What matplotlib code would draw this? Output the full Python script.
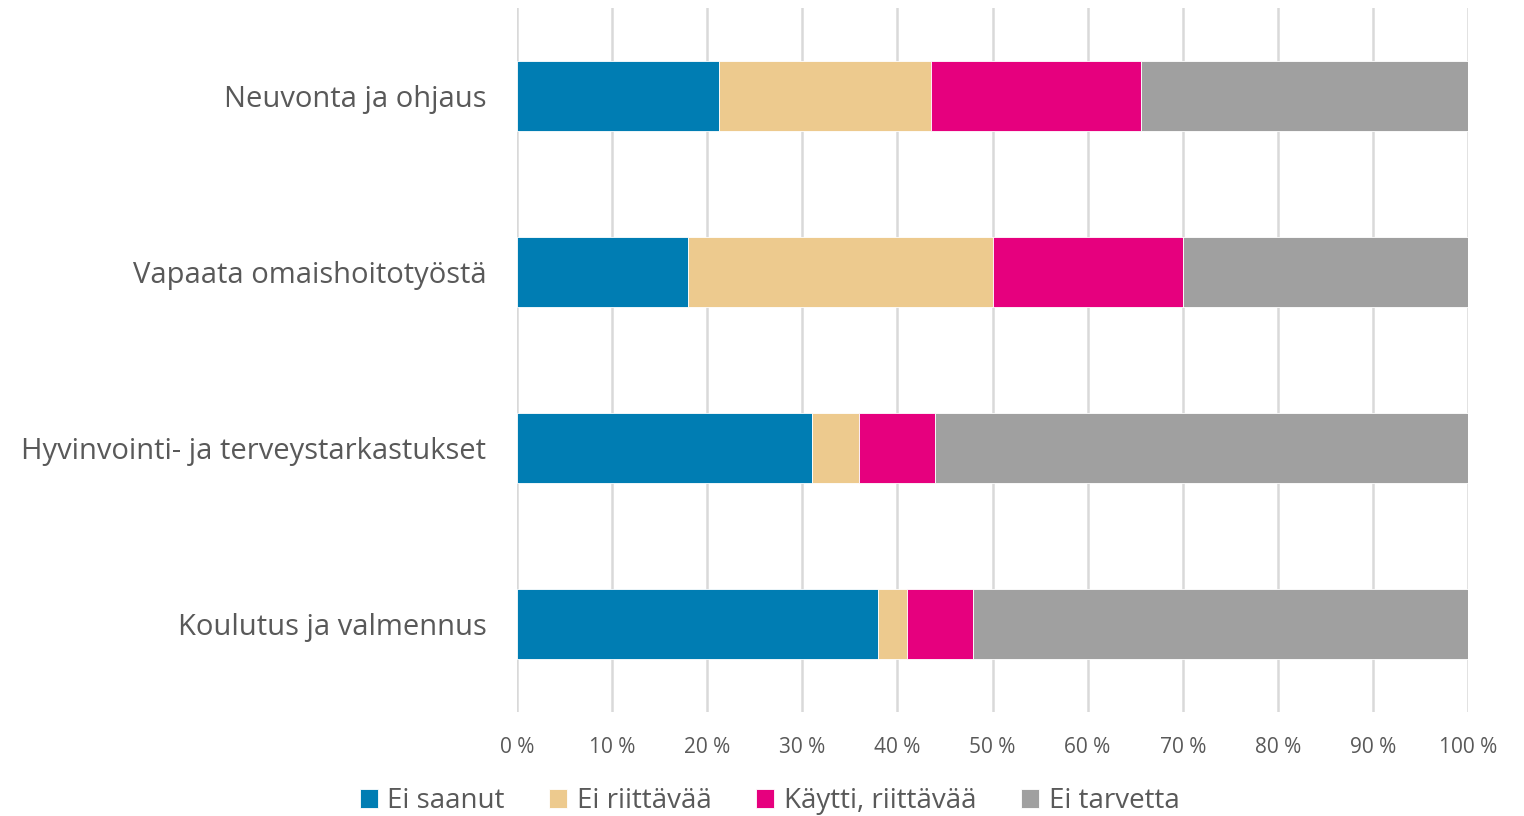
import matplotlib.pyplot as plt
import numpy as np

plt.rcParams['font.family'] = ['Open Sans', 'DejaVu Sans']

categories = ["Neuvonta ja ohjaus", "Vapaata omaishoitotyöstä",
              "Hyvinvointi- ja terveystarkastukset", "Koulutus ja valmennus"]
series_names = ["Ei saanut", "Ei riittävää", "Käytti, riittävää", "Ei tarvetta"]
ei_saanut = [21.2, 18.0, 31.0, 38.0]
ei_riittavaa = [22.3, 32.0, 5.0, 3.0]
kaytti_riittavaa = [22.1, 20.0, 8.0, 7.0]
ei_tarvetta = [34.4, 30.0, 56.0, 52.0]
colors = ["#007DB3", "#EDCA8E", "#E6007E", "#A0A0A0"]

text_color = "#595959"

fig = plt.figure(figsize=(15.24, 8.16), dpi=100)
ax = fig.add_axes([517 / 1524, 1 - 712 / 816, (1468 - 517) / 1524, 704 / 816])

y = np.arange(len(categories))
left = np.zeros(len(categories))
for name, vals, col in zip(series_names,
                           [ei_saanut, ei_riittavaa, kaytti_riittavaa, ei_tarvetta],
                           colors):
    ax.barh(y, vals, left=left, height=0.4, color=col, label=name,
            edgecolor="white", linewidth=0.6, zorder=3)
    left += np.array(vals)

ax.set_xlim(0, 100)
ax.set_ylim(3.5, -0.5)
ax.set_xticks(np.arange(0, 101, 10))
ax.set_xticklabels([f"{v} %" for v in range(0, 101, 10)])
ax.set_yticks(y)
ax.set_yticklabels(categories)
ax.xaxis.grid(True, color="#D9D9D9", linewidth=1.8, zorder=0)
for s in ax.spines.values():
    s.set_visible(False)
ax.tick_params(axis="x", length=0, pad=18, labelsize=15, labelcolor=text_color)
ax.tick_params(axis="y", length=0, pad=22, labelsize=21, labelcolor=text_color)

leg = fig.legend(loc="center", bbox_to_anchor=(0.505, 1 - 801 / 816), ncol=4,
                 frameon=False, fontsize=20, handlelength=0.65, handleheight=0.65,
                 handletextpad=0.35, columnspacing=1.6)
for t in leg.get_texts():
    t.set_color(text_color)

fig.savefig("out.png", dpi=100)
